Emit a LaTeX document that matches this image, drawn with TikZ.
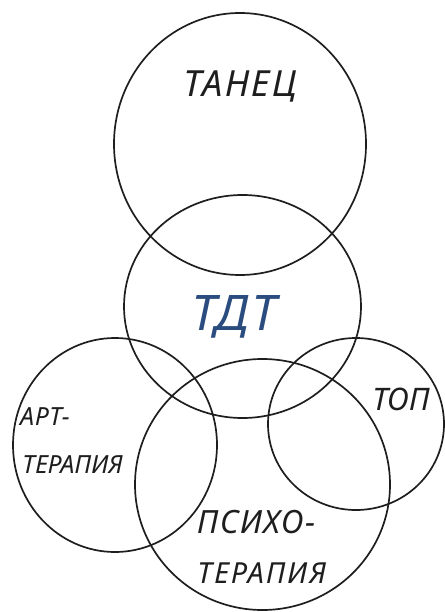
\documentclass[tikz,border=0pt]{standalone}
\usepackage{fontspec}
\setmainfont{Noto Sans}
\definecolor{tdtblue}{HTML}{2B4C7E}
\definecolor{ink}{HTML}{1E1E1E}
\begin{document}
\begin{tikzpicture}[x=1pt,y=-1pt,
  ring/.style={draw=ink,line width=1.7pt},
  lbl/.style={inner sep=0pt,text=ink,font=\itshape}]
\useasboundingbox (0,0) rectangle (444,612);
% circles
\draw[ring] (240,144) ellipse [x radius=126,y radius=131];
\draw[ring] (242.5,306.5) ellipse [x radius=118.5,y radius=111.5];
\draw[ring] (115,445) ellipse [x radius=102,y radius=107];
\draw[ring] (262.5,484.5) ellipse [x radius=127.5,y radius=125.5];
\draw[ring] (356,424) ellipse [x radius=88,y radius=86];
% labels
\node[lbl,anchor=base,font=\fontsize{36}{36}\selectfont\itshape\addfontfeature{LetterSpace=6}] (tanec) at (240,97) {ТАНЕЦ};
\node[lbl,anchor=base,text=tdtblue,font=\fontsize{49}{49}\selectfont\itshape\addfontfeature{LetterSpace=4}] (tdt) at (234,330) {ТДТ};
\node[lbl,anchor=base west,font=\fontsize{25}{25}\selectfont\itshape\addfontfeature{LetterSpace=3}] (art) at (20,425) {АРТ-};
\node[lbl,anchor=base west,font=\fontsize{25}{25}\selectfont\itshape] (artter) at (22,473) {ТЕРАПИЯ};
\node[lbl,anchor=base west,font=\fontsize{31}{31}\selectfont\itshape] (top) at (372,410) {ТОП};
\node[lbl,anchor=base west,font=\fontsize{32}{32}\selectfont\itshape\addfontfeature{LetterSpace=5}] (psi) at (197,533) {ПСИХО-};
\node[lbl,anchor=base west,font=\fontsize{29}{29}\selectfont\itshape\addfontfeature{LetterSpace=7}] (psiter) at (197,583) {ТЕРАПИЯ};
\end{tikzpicture}
\end{document}
